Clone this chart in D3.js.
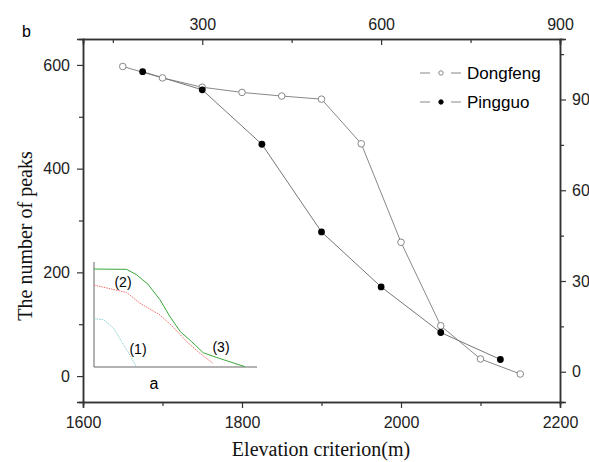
<!DOCTYPE html>
<html>
<head>
<meta charset="utf-8">
<script src="https://cdn.jsdelivr.net/npm/d3@7"></script>
<style>
  body { margin: 0; background: #fff; }
  svg { display: block; }
  .tick text { font-family: "Liberation Sans", Arial, sans-serif; font-size: 16px; fill: #222; }
  .axis-title { font-family: "Liberation Serif", "Times New Roman", serif; font-size: 20px; fill: #111; }
</style>
</head>
<body>
<svg id="chart" width="589" height="462"></svg>
<script>
// main series: elevation criterion (m) vs number of peaks
const dongfengElev = [1650, 1700, 1750, 1800, 1850, 1900, 1950, 2000, 2050, 2100, 2150];
const dongfengPeaks = [597, 575, 557, 547, 540, 534, 448, 258, 97, 33, 4];
const pingguoElev = [1675, 1750, 1825, 1900, 1975, 2050, 2125];
const pingguoPeaks = [587, 552, 447, 278, 172, 84, 32];

// axis ticks
const bottomTicks = [1600, 1800, 2000, 2200];
const topTicks = [300, 600, 900];
const leftTicks = [0, 200, 400, 600];
const rightTicks = [0, 30, 60, 90];

// inset "a" curves (relative units 0-100)
const inset1 = [[0, 46], [6, 45], [12, 37], [17, 24], [22, 11.4], [26, 0.3]];
const inset2 = [[0, 78], [20, 71], [28, 61], [40.5, 49.5], [48.7, 37.8], [57, 24], [65, 13], [73, 3.5]];
const inset3 = [[0, 93.3], [20, 93], [26, 88], [33, 79], [40.5, 64], [46.6, 48], [53, 33.6], [60, 24], [67, 13.6], [75, 9.2], [92.6, 0.3]];

const svg = d3.select("#chart");
const x0 = 83, x1 = 560, y0 = 402, y1 = 39;

const x = d3.scaleLinear().domain([1600, 2200]).range([x0, x1]);
const xTop = d3.scaleLinear().domain([100, 900]).range([x0, x1]);
const y = d3.scaleLinear().domain([-50, 650]).range([y0, y1]);
const yRight = d3.scaleLinear().domain([-10, 110]).range([y0, y1]);

const axisColor = "#333";
function styleAxis(g) {
    g.selectAll(".domain").attr("stroke", axisColor).attr("stroke-width", 1.5);
    g.selectAll(".tick line").attr("stroke", axisColor).attr("stroke-width", 1.2);
}

// bottom axis (major + minor)
svg.append("g").attr("transform", `translate(0,${y0})`)
    .call(d3.axisBottom(x).tickValues([1700, 1900, 2100]).tickSize(4).tickFormat(""))
    .call(styleAxis);
svg.append("g").attr("transform", `translate(0,${y0})`)
    .call(d3.axisBottom(x).tickValues(bottomTicks).tickSize(6).tickPadding(9).tickFormat(d3.format("d")))
    .call(styleAxis);

// top axis, ticks pointing inward
svg.append("g").attr("transform", `translate(0,${y1})`)
    .call(d3.axisBottom(xTop).tickValues([150, 450, 750]).tickSize(4).tickFormat(""))
    .call(styleAxis);
svg.append("g").attr("transform", `translate(0,${y1})`)
    .call(d3.axisBottom(xTop).tickValues(topTicks).tickSize(6).tickFormat(""))
    .call(styleAxis);
svg.append("g").attr("transform", `translate(0,${y1})`)
    .call(d3.axisTop(xTop).tickValues(topTicks).tickSize(0).tickPadding(9))
    .call(g => g.select(".domain").remove());

// left axis
svg.append("g").attr("transform", `translate(${x0},0)`)
    .call(d3.axisLeft(y).tickValues([100, 300, 500]).tickSize(4).tickFormat(""))
    .call(styleAxis);
svg.append("g").attr("transform", `translate(${x0},0)`)
    .call(d3.axisLeft(y).tickValues(leftTicks).tickSize(6).tickPadding(7))
    .call(styleAxis);

// right axis
svg.append("g").attr("transform", `translate(${x1},0)`)
    .call(d3.axisRight(yRight).tickValues([15, 45, 75, 105]).tickSize(4).tickFormat(""))
    .call(styleAxis);
svg.append("g").attr("transform", `translate(${x1},0)`)
    .call(d3.axisRight(yRight).tickValues(rightTicks).tickSize(6).tickPadding(6))
    .call(styleAxis);

// axis titles
svg.append("text").attr("class", "axis-title")
    .attr("x", 321).attr("y", 456).attr("text-anchor", "middle")
    .text("Elevation criterion(m)");
svg.append("text").attr("class", "axis-title")
    .attr("transform", "translate(32,236) rotate(-90)")
    .attr("text-anchor", "middle")
    .text("The number of peaks");
svg.append("text")
    .attr("x", 22).attr("y", 37)
    .style("font-family", "Liberation Sans, Arial, sans-serif").style("font-size", "16px")
    .text("b");

// series
const line = d3.line().x(d => x(d[0])).y(d => y(d[1]));
const dongfeng = dongfengElev.map((e, i) => [e, dongfengPeaks[i]]);
const pingguo = pingguoElev.map((e, i) => [e, pingguoPeaks[i]]);

svg.append("path").datum(dongfeng).attr("d", line)
    .attr("fill", "none").attr("stroke", "#888").attr("stroke-width", 1);
svg.append("path").datum(pingguo).attr("d", line)
    .attr("fill", "none").attr("stroke", "#777").attr("stroke-width", 1);

svg.selectAll(".dot-dongfeng").data(dongfeng).join("circle")
    .attr("class", "dot-dongfeng")
    .attr("cx", d => x(d[0])).attr("cy", d => y(d[1])).attr("r", 3.3)
    .attr("fill", "#fff").attr("stroke", "#888").attr("stroke-width", 1);
svg.selectAll(".dot-pingguo").data(pingguo).join("circle")
    .attr("class", "dot-pingguo")
    .attr("cx", d => x(d[0])).attr("cy", d => y(d[1])).attr("r", 3.4)
    .attr("fill", "#000");

// legend
const legend = svg.append("g").attr("transform", "translate(420,73)");
[["Dongfeng", "#fff", "#888"], ["Pingguo", "#000", "#000"]].forEach((s, i) => {
    const g = legend.append("g").attr("transform", `translate(0,${i * 29})`);
    g.append("line").attr("x1", 0).attr("x2", 10).attr("stroke", "#888");
    g.append("line").attr("x1", 31).attr("x2", 41).attr("stroke", "#888");
    g.append("circle").attr("cx", 21).attr("r", 2.2).attr("fill", s[1]).attr("stroke", s[2]);
    g.append("text").attr("x", 47).attr("dy", "0.35em")
        .style("font-family", "Liberation Sans, Arial, sans-serif").style("font-size", "17px")
        .text(s[0]);
});

// inset "a"
const ix = d3.scaleLinear().domain([0, 100]).range([94, 257]);
const iy = d3.scaleLinear().domain([0, 100]).range([367, 262]);
const inset = svg.append("g");
inset.append("path")
    .attr("d", `M${ix(0)},${iy(100)}V${iy(0)}H${ix(100)}`)
    .attr("fill", "none").attr("stroke", "#666").attr("stroke-width", 1);
const iline = d3.line().x(d => ix(d[0])).y(d => iy(d[1]));
inset.append("path").datum(inset1).attr("d", iline)
    .attr("fill", "none").attr("stroke", "#8ccfcf").attr("stroke-width", 1).attr("stroke-dasharray", "1.5,1");
inset.append("path").datum(inset2).attr("d", iline)
    .attr("fill", "none").attr("stroke", "#f07070").attr("stroke-width", 1).attr("stroke-dasharray", "1.5,1");
inset.append("path").datum(inset3).attr("d", iline)
    .attr("fill", "none").attr("stroke", "#3aa83a").attr("stroke-width", 1);
const insetFont = "Liberation Sans, Arial, sans-serif";
[["(2)", 123, 282], ["(1)", 138, 349], ["(3)", 221, 347], ["a", 154, 383]].forEach(t => {
    inset.append("text").attr("x", t[1]).attr("y", t[2]).attr("dy", "0.35em")
        .attr("text-anchor", "middle")
        .style("font-family", insetFont).style("font-size", t[0] === "a" ? "16px" : "14px")
        .text(t[0]);
});
</script>
</body>
</html>
